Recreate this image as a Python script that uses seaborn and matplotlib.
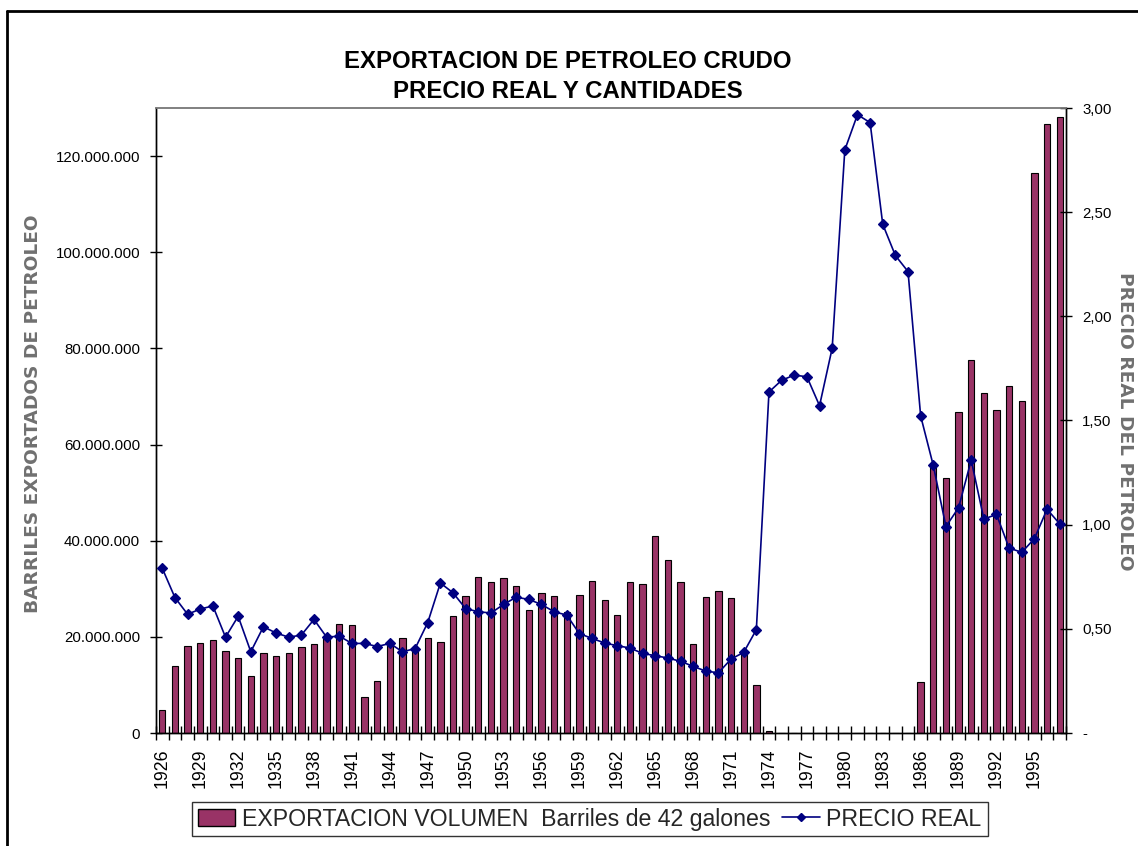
import numpy as np
import pandas as pd
import matplotlib
matplotlib.use("Agg")
import matplotlib.pyplot as plt
import seaborn as sns
from matplotlib.patches import Patch
from matplotlib.lines import Line2D
from matplotlib.ticker import FuncFormatter, MultipleLocator, FixedLocator

years = list(range(1926, 1998))

volume_millions = [
    4.7, 13.9, 18.1, 18.7, 19.3, 17.1, 15.5, 11.9, 16.7, 16.1,
    16.7, 17.9, 18.6, 20.0, 22.6, 22.4, 7.5, 10.8, 18.8, 19.7,
    17.8, 19.8, 19.0, 24.3, 28.5, 32.4, 31.4, 32.3, 30.6, 25.6,
    29.1, 28.6, 25.1, 28.7, 31.6, 27.7, 24.5, 31.4, 30.9, 41.0,
    35.9, 31.4, 18.6, 28.2, 29.6, 28.0, 16.6, 10.0, 0.5, 0.0,
    0.0, 0.0, 0.0, 0.0, 0.0, 0.0, 0.0, 0.0, 0.0, 0.0,
    10.7, 55.8, 53.0, 66.7, 77.6, 70.7, 67.2, 72.2, 69.1, 116.4,
    126.7, 128.2,
]

price = [
    0.79, 0.65, 0.57, 0.595, 0.61, 0.46, 0.56, 0.39, 0.51, 0.48,
    0.46, 0.47, 0.545, 0.46, 0.465, 0.43, 0.43, 0.415, 0.43, 0.39,
    0.405, 0.53, 0.72, 0.673, 0.597, 0.582, 0.576, 0.617, 0.652, 0.641,
    0.617, 0.582, 0.566, 0.477, 0.454, 0.432, 0.419, 0.408, 0.382, 0.371,
    0.36, 0.344, 0.32, 0.297, 0.289, 0.355, 0.387, 0.496, 1.637, 1.693,
    1.718, 1.71, 1.571, 1.847, 2.799, 2.968, 2.93, 2.442, 2.292, 2.215,
    1.522, 1.284, 0.991, 1.081, 1.31, 1.027, 1.049, 0.888, 0.867, 0.933,
    1.074, 1.004,
]

title_lines = ["EXPORTACION DE PETROLEO CRUDO", "PRECIO REAL Y CANTIDADES"]
left_label = "BARRILES EXPORTADOS DE PETROLEO"
right_label = "PRECIO REAL DEL PETROLEO"
bar_label = "EXPORTACION VOLUMEN  Barriles de 42 galones"
line_label = "PRECIO REAL"

df = pd.DataFrame({
    "year": [str(y) for y in years],
    "volume": [v * 1e6 for v in volume_millions],
    "price": price,
})

sns.set_theme(style="white")
plt.rcParams["font.family"] = ["Liberation Sans", "DejaVu Sans"]

BAR = "#993366"
LINE = "#000080"
W, H = 1138, 846
fig = plt.figure(figsize=(W / 100, H / 100), dpi=100)
fig.patch.set_facecolor("white")

L, R, T, B = 156, 1066, 108, 733
ax = fig.add_axes([L / W, 1 - B / H, (R - L) / W, (B - T) / H])
ax.set_facecolor("white")

sns.barplot(data=df, x="year", y="volume", color=BAR, width=0.5,
            edgecolor="black", linewidth=0.8, saturation=1, ax=ax, zorder=2)

ax2 = ax.twinx()
sns.pointplot(data=df, x="year", y="price", color=LINE, markers="D",
              markersize=5, linewidth=1.2, ax=ax2, zorder=3)

n = len(years)
ax.set_xlim(-0.5, n - 0.5)
ax2.set_xlim(-0.5, n - 0.5)
ax.set_ylim(0, 130e6)
ax2.set_ylim(0, 3.0)

# y axes
ax.yaxis.set_major_locator(MultipleLocator(20e6))
ax.yaxis.set_major_formatter(FuncFormatter(lambda v, p: f"{int(round(v)):,}".replace(",", ".")))
ax2.yaxis.set_major_locator(MultipleLocator(0.5))
ax2.yaxis.set_major_formatter(FuncFormatter(lambda v, p: "-" if abs(v) < 1e-9 else f"{v:.2f}".replace(".", ",")))

ax.tick_params(axis="y", which="major", direction="inout", length=9, width=1,
               color="black", labelsize=10.8, pad=7, labelcolor="black", left=True)
ax2.tick_params(axis="y", which="major", direction="inout", length=9, width=1,
                color="black", labelsize=10.8, pad=7, labelcolor="black", right=True)

# x axis: labels at centers, ticks at category boundaries
ax.xaxis.set_major_locator(FixedLocator(list(range(n))))
ax.set_xticklabels([y if (int(y) - 1926) % 3 == 0 else "" for y in df["year"]],
                   rotation=90, fontsize=12.8)
ax.xaxis.set_minor_locator(FixedLocator([i - 0.5 for i in range(n + 1)]))
ax.tick_params(axis="x", which="major", length=0, pad=11, labelcolor="black")
ax.tick_params(axis="x", which="minor", direction="inout", length=10, width=1,
               color="black", bottom=True)
ax2.tick_params(axis="x", which="both", bottom=False, top=False, labelbottom=False)

ax.set_xlabel("")
ax.set_ylabel("")
ax2.set_xlabel("")
ax2.set_ylabel("")

for a in (ax, ax2):
    for s in ("left", "right", "bottom"):
        a.spines[s].set_color("black")
        a.spines[s].set_linewidth(1.0)
        a.spines[s].set_visible(True)
    a.spines["top"].set_color("#808080")
    a.spines["top"].set_linewidth(1.2)
    a.spines["top"].set_visible(True)

# titles and axis labels
fig.text(568 / W, 1 - 62 / H, title_lines[0], ha="center", va="center",
         fontsize=17.3, fontweight="bold", color="black")
fig.text(568 / W, 1 - 91 / H, title_lines[1], ha="center", va="center",
         fontsize=17.3, fontweight="bold", color="black")
fig.text(33 / W, 1 - 414 / H, left_label, rotation=90, ha="center", va="center",
         fontsize=13.3, fontweight="bold", color="#707070", family=["DejaVu Sans"])
fig.text(1125 / W, 1 - 421 / H, right_label, rotation=270, ha="center", va="center",
         fontsize=13.3, fontweight="bold", color="#707070", family=["DejaVu Sans"])

# legend
handles = [Patch(facecolor=BAR, edgecolor="black", linewidth=1.0),
           Line2D([0], [0], color=LINE, lw=1.2, marker="D", markersize=4)]
leg = fig.legend(handles, [bar_label, line_label], loc="center",
                 bbox_to_anchor=(590 / W, 1 - 819 / H), ncol=2, frameon=True,
                 fancybox=False, fontsize=16.7, handlelength=1.6, handleheight=0.7,
                 handletextpad=0.3, columnspacing=0.5, borderpad=0.25,
                 borderaxespad=0)
leg.get_frame().set_edgecolor("black")
leg.get_frame().set_linewidth(1.0)

# chart-area border (left and top visible)
fig.add_artist(Line2D([7 / W, 7 / W], [0, 1 - 11 / H], color="black", lw=2,
                      transform=fig.transFigure))
fig.add_artist(Line2D([7 / W, 1], [1 - 11 / H, 1 - 11 / H], color="black", lw=2,
                      transform=fig.transFigure))

fig.savefig("out.png", dpi=100, facecolor="white")
